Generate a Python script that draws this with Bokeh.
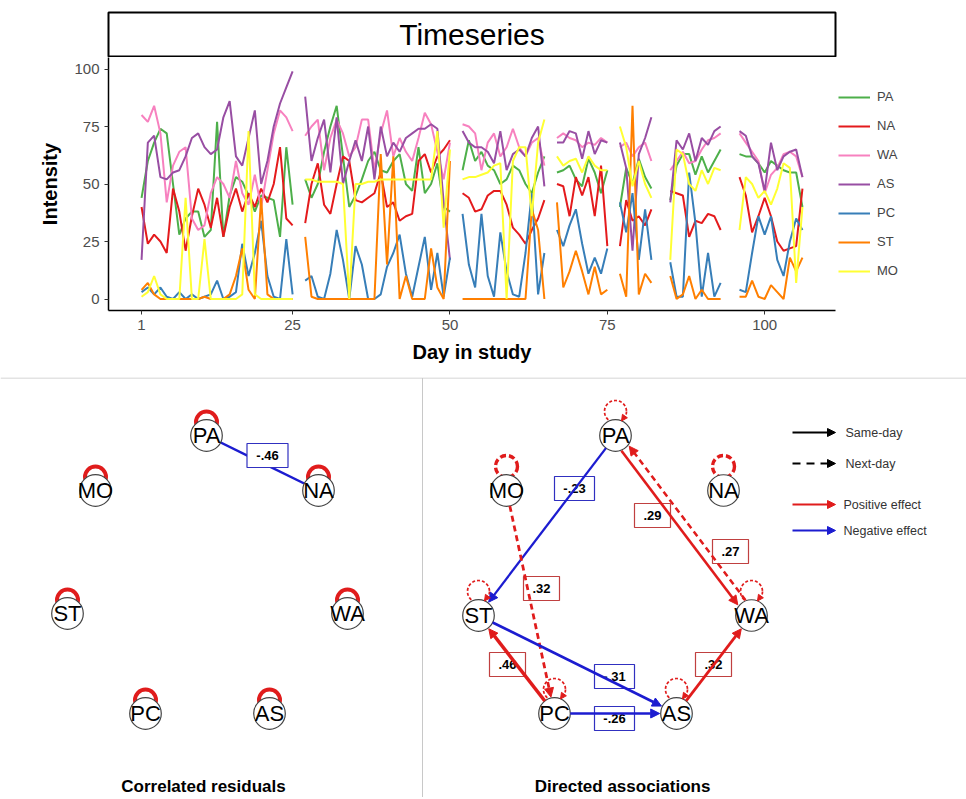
import math
import numpy as np
from bokeh.plotting import figure
from bokeh.models import (Range1d, Legend, LegendItem, ColumnDataSource, Arrow,
                          NormalHead, FixedTicker)
from bokeh.embed import file_html
from bokeh.resources import INLINE
from bokeh.core.properties import value

# ---------------- data: daily intensities (None = no report) ----------------
days = list(range(1, 107))
N = None
PA = [44,60,68,74,72,50,28,35,38,38,27,30,77,27,45,53,51,45,38,45,44,43,27,66,41, N,
      52,44,50,64,75,84,62,40,45,52,60,64,56,55,60,63,50,47,66,46,50,59,40,38, N,
      56,69,60,64,58,56,50,52,58,56,50,46,55,62, N,
      55,56,58,52,49,61,55,46,56, N,
      40,57,50,61,53,48, N, N,
      43,58,63,63,54,62,55,60,65, N, N,
      63,62,62,59,55,60,58,56,55,55,40]
NA = [40,24,28,25,20,48,38,21,36,48,41,31,44,27,40,48,38,46,40,48,42,50,66,35,32, N,
      33,50,59,41,37,50,62,60,43,42,44,46,55,40,42,34,36,37,60,63,55,62,65,69, N,
      46,44,38,39,45,47,47,41,31,28,24,30,35,43, N,
      50,49,36,53,45,53,36,58,23, N,
      23,43,34,36,32,39, N, N,
      47,46,45,27,34,33,37,36,30, N, N,
      53,45,29,36,44,36,25,21,22,23,48]
WA = [80,77,84,72,42,58,64,66,35,30,32,46,53,50,44,60,46,41,54,40,56,72,82,79,73, N,
      71,75,78,56,70,78,72,62,66,78,78,56,72,82,62,70,64,60,70,81,76,64,52,68, N,
      76,75,72,56,68,72,62,66,74,66,62,68,70,58, N,
      70,72,70,69,66,68,67,70,68, N,
      66,68,62,66,68,60, N, N,
      56,60,64,59,60,65,69,70,72, N, N,
      72,68,64,60,46,54,57,63,64,62,53]
AS = [17,68,71,53,52,55,56,62,70,72,66,63,65,79,86,62,58,70,82,50,60,75,85,92,99, N,
      88,60,70,78,55,79,50,60,69,60,75,52,75,62,68,64,70,72,74,74,76,74,42,17, N,
      73,68,66,66,64,59,73,56,63,65,62,70,75,49, N,
      68,68,73,72,61,73,63,69,68, N,
      68,57,21,63,70,79, N, N,
      42,69,65,72,60,70,67,73,75, N, N,
      73,71,62,59,47,68,56,62,64,65,53]
PC = [3,5,2,5,1,0,3,0,2,0,1,2,8,0,1,3,24,10,20,34,10,1,0,26,2, N,
      8,10,1,0,11,30,17,0,23,15,0,0,2,14,20,28,11,1,14,27,4,20,1,18, N,
      37,15,5,37,10,1,29,12,2,1,20,46,2,20, N,
      30,23,32,39,24,11,18,11,22, N,
      42,29,46,17,39,17, N, N,
      16,1,1,55,33,1,20,1,7, N, N,
      4,3,20,36,28,36,17,10,25,35,30]
ST = [4,7,2,0,0,0,0,0,0,0,1,0,0,0,2,10,22,4,0,44,2,0,0,0,0, N,
      27,1,0,0,0,0,0,0,0,0,0,0,63,15,62,0,10,0,0,0,22,5,0,60, N,
      0,0,0,0,0,0,0,0,0,0,0,39,30,0, N,
      42,5,12,21,12,2,14,2,4, N,
      11,1,84,2,11,7, N, N,
      10,0,2,10,0,4,0,0,0, N, N,
      1,1,8,1,0,6,3,0,18,12,18]
MO = [1,3,10,2,0,0,0,44,0,0,26,0,0,0,0,0,2,73,2,0,0,0,0,0,0, N,
      52,52,51,51,51,51,50,0,50,50,51,51,52,52,52,52,52,52,52,52,52,73,31,65, N,
      52,53,53,54,55,58,59,0,60,66,66,36,68,78, N,
      62,58,60,61,55,62,58,56,56, N,
      75,66,49,60,50,44, N, N,
      17,65,63,50,47,56,50,57,56, N, N,
      30,53,50,44,47,41,48,59,57,7,40]

series_names = ["PA", "NA", "WA", "AS", "PC", "ST", "MO"]
series_values = [PA, NA, WA, AS, PC, ST, MO]
series_colors = ["#4DAF4A", "#E41A1C", "#F781BF", "#984EA3", "#377EB8", "#FF7F00", "#FFFF33"]
x_ticks = [1, 25, 50, 75, 100]
y_ticks = [0, 25, 50, 75, 100]

# network: correlated residuals (contemporaneous)
corr_from = ["PA"]
corr_to = ["NA"]
corr_weight = [-0.46]
corr_self = ["PA", "NA", "MO", "ST", "WA", "PC", "AS"]

# network: directed associations
dir_from = ["PA", "PA", "WA", "MO", "PC", "ST", "PC", "AS"]
dir_to = ["ST", "WA", "PA", "PC", "ST", "AS", "AS", "WA"]
dir_weight = [-0.23, 0.29, 0.27, 0.32, 0.46, -0.31, -0.26, 0.32]
dir_nextday = [False, False, True, True, False, False, False, False]
auto_nodes = ["PA", "ST", "WA", "PC", "AS", "MO", "NA"]
auto_weight = [0.12, 0.12, 0.12, 0.12, 0.12, 0.40, 0.40]

# ---------------- layout (positions, not data) ----------------
left_pos = {"PA": (206, 435), "NA": (318, 490), "WA": (347, 613), "AS": (269, 713),
            "PC": (145, 713), "ST": (67, 613), "MO": (95, 490)}
right_pos = {"PA": (615, 435), "NA": (723, 490), "WA": (751, 615), "AS": (676, 713),
             "PC": (554, 713), "ST": (478, 615), "MO": (506, 490)}
corr_label_pos = [(267, 455)]
dir_label_pos = [(574, 488), (652, 515), (730, 551), (541, 588),
                 (507, 664), (614, 676), (614, 718), (713, 664)]
NODE_R = 15.8
RED = "#e01c1c"
BLUE = "#1c1cd0"
FONT = value("Liberation Sans")

# ---------------- title strip ----------------
strip = figure(frame_width=727, frame_height=44, x_range=Range1d(0, 1), y_range=Range1d(0, 1),
               output_backend="svg", toolbar_location=None,
               x_axis_location=None, y_axis_location=None,
               min_border_left=108, min_border_right=131, min_border_top=12, min_border_bottom=1,
               outline_line_color="black", outline_line_width=2)
strip.grid.visible = False
strip.text(x=[0.5], y=[0.5], text=["Timeseries"], text_align="center", text_baseline="middle",
           text_font=FONT, text_font_size="30px", text_color="black")

# ---------------- timeseries ----------------
top = figure(frame_width=727, frame_height=253, x_range=Range1d(-4.25, 111.25),
             y_range=Range1d(-5, 105),
             output_backend="svg", toolbar_location=None,
             min_border_left=108, min_border_right=131, min_border_top=0, min_border_bottom=67,
             outline_line_color=None)
top.grid.visible = False
items = []
for name, vals, col in zip(series_names, series_values, series_colors):
    y = np.array(vals, dtype=float)
    r = top.line(days, y, line_color=col, line_width=2)
    items.append(LegendItem(label=name, renderers=[r]))

top.xaxis.ticker = FixedTicker(ticks=x_ticks)
top.yaxis.ticker = FixedTicker(ticks=y_ticks)
top.xaxis.axis_label = "Day in study"
top.yaxis.axis_label = "Intensity"
for ax in (top.xaxis, top.yaxis):
    ax.axis_line_color = "black"
    ax.axis_line_width = 1.5
    ax.major_tick_line_color = "#333333"
    ax.major_tick_out = 4
    ax.major_tick_in = 0
    ax.minor_tick_line_color = None
    ax.major_label_text_font = "Liberation Sans"
    ax.major_label_text_font_size = "15px"
    ax.major_label_text_color = "#4D4D4D"
    ax.axis_label_text_font = "Liberation Sans"
    ax.axis_label_text_font_size = "20px"
    ax.axis_label_text_font_style = "bold"
    ax.axis_label_text_color = "black"
top.xaxis.axis_label_standoff = 8
top.yaxis.axis_label_standoff = 10

legend = Legend(items=items, location="center_left", label_text_font="Liberation Sans",
                label_text_font_size="13px", glyph_width=32, glyph_height=20, label_height=20,
                spacing=9, label_standoff=7, padding=10, margin=3,
                border_line_color=None, background_fill_alpha=0)
top.add_layout(legend, "right")

# ---------------- networks ----------------
bot = figure(width=966, height=420, x_range=Range1d(0, 966), y_range=Range1d(797, 377),
             output_backend="svg", toolbar_location=None,
             x_axis_location=None, y_axis_location=None, min_border=0,
             outline_line_color=None)
bot.grid.visible = False

# separators
bot.segment(x0=[0], y0=[377.5], x1=[966], y1=[377.5], line_color="#c8c8c8", line_width=1)
bot.segment(x0=[422], y0=[377.5], x1=[422], y1=[797], line_color="#c8c8c8", line_width=1)


def fmt(w):
    s = f"{abs(w):.2f}".lstrip("0")
    return ("-" if w < 0 else "") + s


def trim(p0, p1, r0, r1, off=0.0):
    dx, dy = p1[0] - p0[0], p1[1] - p0[1]
    L = math.hypot(dx, dy)
    ux, uy = dx / L, dy / L
    nx, ny = -uy, ux
    return (p0[0] + ux * r0 + nx * off, p0[1] + uy * r0 + ny * off,
            p1[0] - ux * r1 + nx * off, p1[1] - uy * r1 + ny * off)


# left: correlated residuals
for f, t, w in zip(corr_from, corr_to, corr_weight):
    a, b = left_pos[f], left_pos[t]
    bot.segment(x0=[a[0]], y0=[a[1]], x1=[b[0]], y1=[b[1]],
                line_color=RED if w > 0 else BLUE, line_width=2.5)
lx = [left_pos[n][0] for n in corr_self]
ly = [left_pos[n][1] - 13.5 for n in corr_self]
bot.circle(x=lx, y=ly, radius=10.5, fill_color=None, line_color=RED, line_width=4)

# right: directed associations
pairs = set(zip(dir_from, dir_to))
for f, t, w, nd in zip(dir_from, dir_to, dir_weight, dir_nextday):
    a, b = right_pos[f], right_pos[t]
    off = 4.5 if (t, f) in pairs else 0.0
    x0, y0, x1, y1 = trim(a, b, NODE_R, NODE_R + 1, off)
    col = RED if w > 0 else BLUE
    lw = 1.0 + 5.5 * abs(w)
    src = ColumnDataSource(dict(x0=[x0], y0=[y0], x1=[x1], y1=[y1]))
    bot.add_layout(Arrow(end=NormalHead(size=9, fill_color=col, line_color=col, line_width=1),
                         source=src, x_start="x0", y_start="y0", x_end="x1", y_end="y1",
                         line_color=col, line_width=lw,
                         line_dash="6 4" if nd else "solid"))

for n, w in zip(auto_nodes, auto_weight):
    cx, cy = right_pos[n][0], right_pos[n][1] - 24
    lw = 1.0 + 6.0 * abs(w)
    bot.circle(x=[cx], y=[cy], radius=11, fill_color=None, line_color=RED, line_width=lw,
               line_dash="3 2" if w < 0.3 else "6 3")
    if w < 0.3:
        src = ColumnDataSource(dict(x0=[cx + 10.5], y0=[cy + 3], x1=[cx + 6], y1=[cy + 9.5]))
        bot.add_layout(Arrow(end=NormalHead(size=6, fill_color=RED, line_color=RED),
                             source=src, x_start="x0", y_start="y0", x_end="x1", y_end="y1",
                             line_color=RED, line_width=1, line_alpha=0))

# nodes
for pos in (left_pos, right_pos):
    names = list(pos.keys())
    xs = [pos[n][0] for n in names]
    ys = [pos[n][1] for n in names]
    bot.circle(x=xs, y=ys, radius=NODE_R, fill_color="white", line_color="#444444", line_width=1.2)
    bot.text(x=xs, y=ys, text=names, text_align="center", text_baseline="middle",
             text_font=FONT, text_font_size="22px", text_color="black")


def edge_labels(positions, weights, bw):
    xs = [p[0] for p in positions]
    ys = [p[1] for p in positions]
    cols = ["#c04040" if w > 0 else "#3030c0" for w in weights]
    widths = [bw if w < 0 else bw - 4 for w in weights]
    bot.rect(x=xs, y=ys, width=widths, height=24, fill_color="white", line_color=cols, line_width=1.2)
    bot.text(x=xs, y=ys, text=[fmt(w) for w in weights], text_align="center",
             text_baseline="middle", text_font=FONT, text_font_size="13px",
             text_font_style="bold", text_color="black")


edge_labels(corr_label_pos, corr_weight, 41)
edge_labels(dir_label_pos, dir_weight, 40)

# legend for directed network
leg_y = [432, 463, 504, 530]
leg_txt = ["Same-day", "Next-day", "Positive effect", "Negative effect"]
leg_col = ["black", "black", RED, BLUE]
leg_dash = ["solid", "8 6", "solid", "solid"]
for y, c, d in zip(leg_y, leg_col, leg_dash):
    src = ColumnDataSource(dict(x0=[792], y0=[y], x1=[835], y1=[y]))
    bot.add_layout(Arrow(end=NormalHead(size=8, fill_color=c, line_color=c), source=src,
                         x_start="x0", y_start="y0", x_end="x1", y_end="y1",
                         line_color=c, line_width=2, line_dash=d))
bot.text(x=[845, 845, 843, 843], y=leg_y, text=leg_txt, text_align="left", text_baseline="middle",
         text_font=FONT, text_font_size="12.5px", text_color="#333333")

bot.text(x=[203, 622], y=[786, 786], text=["Correlated residuals", "Directed associations"],
         text_align="center", text_baseline="middle", text_font=FONT, text_font_size="17px",
         text_font_style="bold", text_color="black")

open("out.html", "w").write(file_html([strip, top, bot], INLINE))
